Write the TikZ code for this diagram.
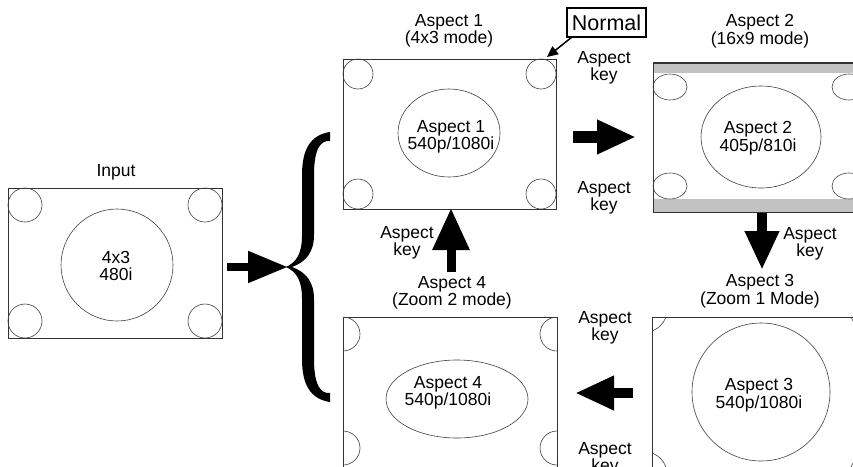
\documentclass[tikz,border=0pt]{standalone}
\usepackage{fontspec}
\setmainfont{Liberation Sans}
\usetikzlibrary{arrows.meta}
\tikzset{
  screen/.style={draw=black!80, line width=0.8pt, minimum width=213pt, minimum height=150pt, inner sep=0pt},
  deco/.style={draw=black!75, line width=0.6pt},
  lbl/.style={font=\fontsize{17.5}{17.5}\selectfont, align=center, inner sep=0pt},
  bigarrow/.style={line width=#1, -{Triangle[length=39pt,width=32pt]}},
  band/.style={fill=black!24, draw=none},
}
\begin{document}
\begin{tikzpicture}[x=1pt,y=-1pt]
\clip (0,0) rectangle (853,466);
\fill[white] (0,0) rectangle (853,466);

% ---------- Input ----------
\node[screen, minimum width=214pt] (in) at (115,263) {};
\draw[deco] (25,205) circle (17) (205,205) circle (17) (25,321) circle (17) (205,321) circle (17);
\draw[deco] (117,265) circle (56);
\node[lbl] (inT) at (116,266) {4x3\\480i};
\node[lbl] (inL) at (116,172) {Input};

% ---------- Aspect 1 ----------
\node[screen] (a1) at (449.5,134) {};
\draw[deco] (358,74) circle (15) (541,74) circle (15) (358,194) circle (15) (541,194) circle (15);
\draw[deco] (449,133) ellipse (51 and 44);
\node[lbl] (a1T) at (451,137) {Aspect 1\\540p/1080i};
\node[lbl] (a1L) at (449,31) {Aspect 1\\(4x3 mode)};

% ---------- Aspect 2 ----------
\node[screen] (a2) at (759.5,137.5) {};
\fill[band] (653,63) rectangle (866,73);
\fill[band] (653,199) rectangle (866,212);
\draw[draw=black!80, line width=0.8pt] (653,63) rectangle (866,212);
\draw[deco] (670,87) ellipse (17 and 13) (849,87) ellipse (17 and 13) (670,186) ellipse (17 and 13) (849,186) ellipse (17 and 13);
\draw[deco] (761,137) ellipse (60 and 51);
\node[lbl] (a2T) at (758,138) {Aspect 2\\405p/810i};
\node[lbl] (a2L) at (760,31) {Aspect 2\\(16x9 mode)};

% ---------- Aspect 3 ----------
\node[screen] (a3) at (758.5,392) {};
\begin{scope}
  \clip (652,317) rectangle (865,467);
  \draw[deco] (645,310) circle (22) (872,310) circle (22) (645,474) circle (22) (872,474) circle (22);
\end{scope}
\draw[deco] (761,392) circle (69);
\node[lbl] (a3T) at (759,395) {Aspect 3\\540p/1080i};
\node[lbl] (a3L) at (760,291) {Aspect 3\\(Zoom 1 Mode)};

% ---------- Aspect 4 ----------
\node[screen, minimum width=214pt] (a4) at (450,392) {};
\begin{scope}
  \clip (343,317) rectangle (557,467);
  \draw[deco] (343,334) circle (17) (557,334) circle (17) (343,448) circle (17) (557,448) circle (17);
\end{scope}
\draw[deco] (457,399) ellipse (71 and 39);
\node[lbl] (a4T) at (448,393) {Aspect 4\\540p/1080i};
\node[lbl] (a4L) at (452,293) {Aspect 4\\(Zoom 2 mode)};

% ---------- Normal ----------
\node[draw, line width=1.4pt, minimum width=79pt, minimum height=29pt, inner sep=0pt,
      font=\fontsize{21.5}{21.5}\selectfont] (nrm) at (606.5,22.5) {Normal};
\coordinate (nrmS) at (572,37);
\coordinate (nrmE) at (547,57);
\draw[line width=1.5pt, -{Triangle[length=11pt,width=10pt]}] (nrmS) -- (nrmE);

% ---------- Aspect key labels ----------
\node[lbl] (k12a) at (604,68) {Aspect\\key};
\node[lbl] (k12b) at (604,198) {Aspect\\key};
\node[lbl] (k23) at (810,244) {Aspect\\key};
\node[lbl] (k34a) at (605,328) {Aspect\\key};
\node[lbl] (k34b) at (605,459) {Aspect\\key};
\node[lbl] (k41) at (407,243) {Aspect\\key};

% ---------- Block arrows ----------
\coordinate (inS) at (227,267);
\coordinate (inE) at (288,267);
\draw[line width=8pt, -{Triangle[length=40pt,width=30pt]}] (inS) -- (inE);

\coordinate (s12) at (573,137);
\coordinate (e12) at (636,137);
\draw[bigarrow=12pt] (s12) -- (e12);

\coordinate (s23) at (762,213);
\coordinate (e23) at (762,270);
\draw[bigarrow=10pt] (s23) -- (e23);

\coordinate (s34) at (633,393);
\coordinate (e34) at (575,393);
\draw[bigarrow=10pt] (s34) -- (e34);

\coordinate (s41) at (451,272);
\coordinate (e41) at (451,208);
\draw[line width=9pt, -{Triangle[length=42pt,width=35pt]}] (s41) -- (e41);

% ---------- Brace ----------
\fill[black] (330,132) .. controls (310,135) and (302,150) .. (302,175) -- (302,235)
  .. controls (302,253) and (297,262) .. (286,267)
  .. controls (297,272) and (302,281) .. (302,299) -- (302,359)
  .. controls (302,384) and (310,399) .. (330,402)
  -- (330,393) .. controls (320,394) and (314,384) .. (314,359) -- (314,299)
  .. controls (314,282) and (306,272) .. (292,267)
  .. controls (306,262) and (314,252) .. (314,235) -- (314,175)
  .. controls (314,150) and (320,140) .. (330,141) -- cycle;
\end{tikzpicture}
\end{document}
